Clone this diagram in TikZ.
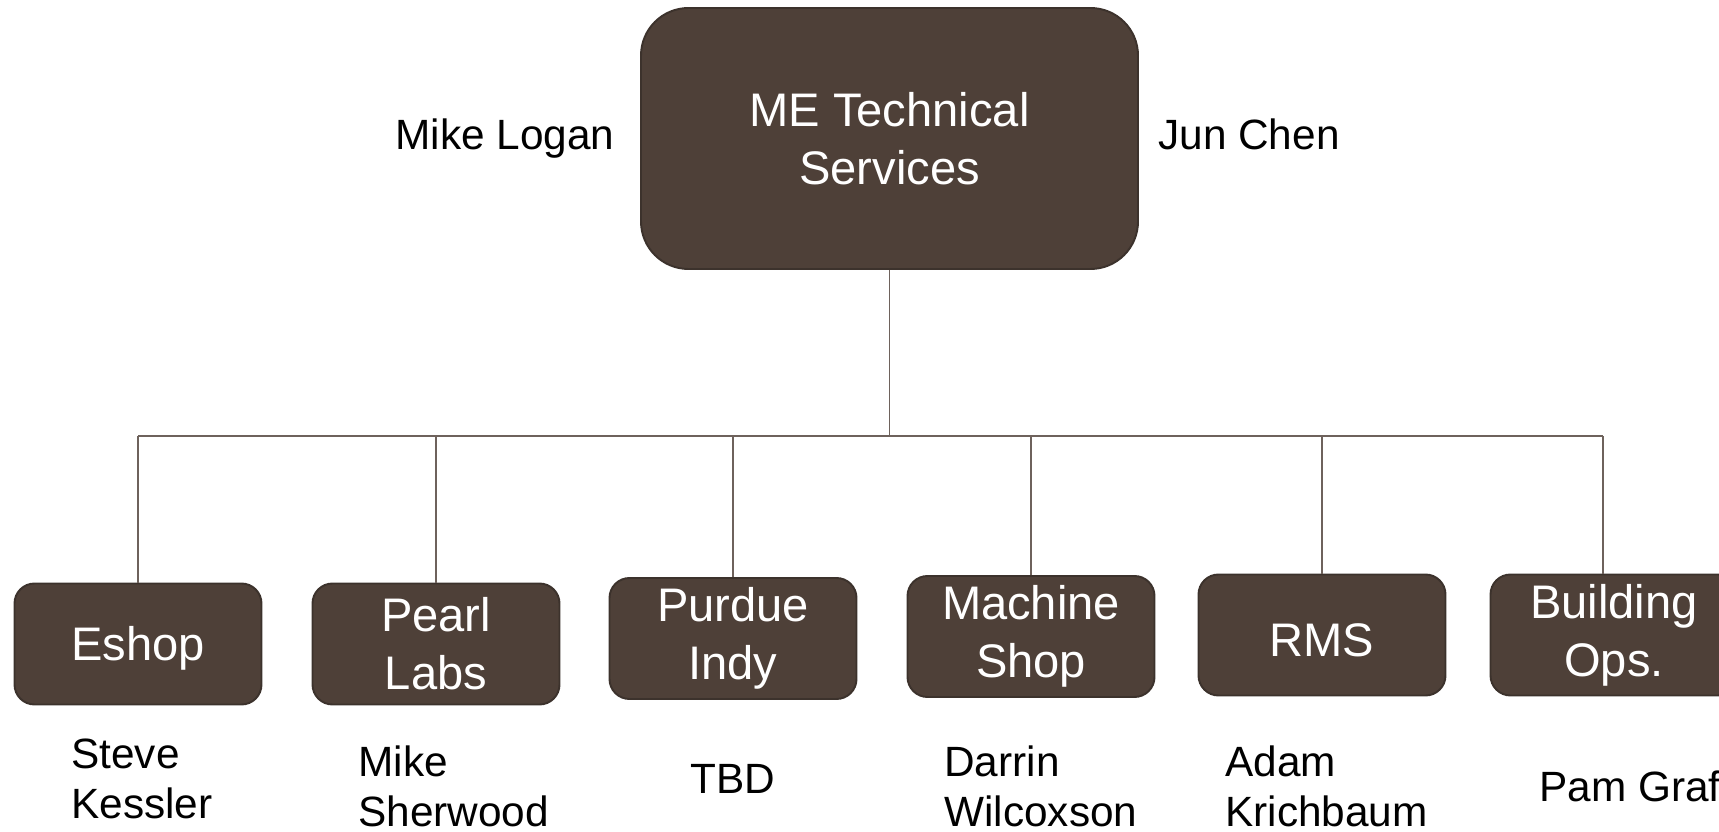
\documentclass[tikz,border=0pt]{standalone}
\usepackage{fontspec}
\setmainfont{Liberation Sans}
\usetikzlibrary{calc}

\definecolor{boxbrown}{RGB}{78,64,56}
\definecolor{edgebrown}{RGB}{60,50,44}
\definecolor{linebrown}{RGB}{110,98,92}

\begin{document}
\begin{tikzpicture}[
    unit/.style={draw=edgebrown, line width=1.1pt, fill=boxbrown, text=white, rounded corners=0.4cm,
        minimum width=4.94cm, minimum height=2.42cm, align=center, inner sep=0pt,
        font=\fontsize{26.8}{33}\selectfont, execute at begin node={\rule{0pt}{24.5pt}}},
    person/.style={anchor=west, align=left, inner sep=0pt, font=\fontsize{24.1}{28.5}\selectfont},
    link/.style={draw=linebrown, line width=0.85pt}]
		\useasboundingbox (0,0) rectangle (34.38,-16.64);

		% head of the group
		\node[unit, rounded corners=0.95cm, minimum width=9.94cm, minimum height=5.22cm,
		      execute at begin node={\rule{0pt}{22pt}}] (head) at (17.79,-2.77) {ME Technical\\Services};
		\node[person] (left) at (7.9,-2.78) {Mike Logan};
		\node[person] (right) at (23.16,-2.68) {Jun Chen};

		% the six shops
		\node[unit] (eshop) at (2.76,-12.88) {Eshop};
		\node[unit] (pearl) at (8.72,-12.88) {Pearl\\Labs};
		\node[unit] (indy) at (14.66,-12.77) {Purdue\\Indy};
		\node[unit] (mshop) at (20.62,-12.73) {Machine\\Shop};
		\node[unit] (rms) at (26.44,-12.70) {RMS};
		\node[unit] (bops) at (32.28,-12.70) {Building\\Ops.};

		\node[person] (eshopP) at (1.42,-15.58) {Steve\\Kessler};
		\node[person] (pearlP) at (7.16,-15.72) {Mike\\Sherwood};
		\node[person, anchor=center] (indyP) at (14.66,-15.58) {TBD};
		\node[person] (mshopP) at (18.88,-15.72) {Darrin\\Wilcoxson};
		\node[person] (rmsP) at (24.5,-15.72) {Adam\\Krichbaum};
		\node[person] (bopsP) at (30.78,-15.72) {Pam Graf};

		% bus
		\coordinate (busL) at (2.76,-8.72);
		\coordinate (busR) at (32.06,-8.72);
		\coordinate (busM) at (head.south |- busL);

		\draw[link] (head.south) -- (busM);
		\draw[link] (busL) -- (busR);
		\draw[link] (busL) -- (eshop.north);
		\draw[link] (pearl.north |- busL) -- (pearl.north);
		\draw[link] (indy.north |- busL) -- (indy.north);
		\draw[link] (mshop.north |- busL) -- (mshop.north);
		\draw[link] (rms.north |- busL) -- (rms.north);
		\draw[link] (busR) -- (busR |- bops.north);

	\end{tikzpicture}
\end{document}
